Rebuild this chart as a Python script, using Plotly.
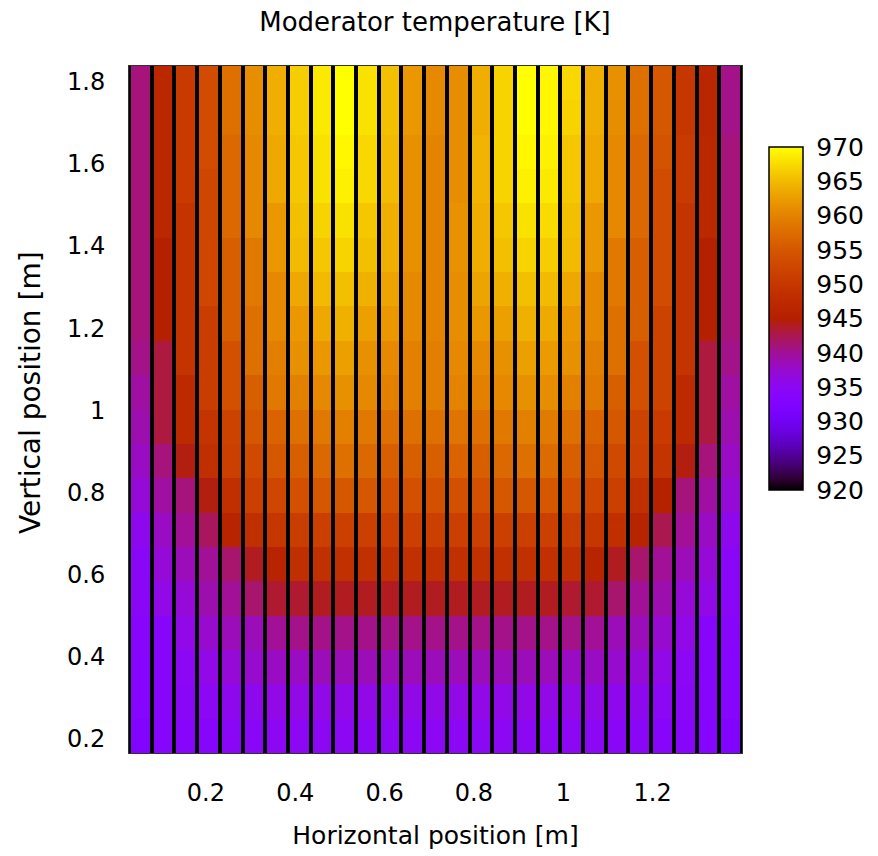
import numpy as np
import plotly.graph_objects as go

# ---- data -------------------------------------------------------------
N_COLS = 27
N_ROWS = 20
X_MIN, X_MAX = 0.028, 1.40
Y_MIN, Y_MAX = 0.166, 1.838

# moderator temperature [K], rows listed from TOP (y high) to BOTTOM (y low)
temp_top_to_bottom = [
    [941, 947, 950.5, 953.5, 958, 961, 964, 966.5, 968.5, 970, 968, 965.5, 962, 960.5, 961, 964, 967, 970, 969.5, 967.3, 964, 961.4, 958, 955, 950, 946.5, 940.5],
    [941, 947, 950.5, 953.5, 958, 961, 964, 966.5, 968.5, 970, 968, 965.5, 962, 960.5, 961, 964, 967, 970, 969.5, 967, 964, 961, 958, 955, 950, 946.5, 940.5],
    [941, 947, 950.5, 953.5, 957, 960.5, 963.5, 966, 968, 969.5, 967.3, 965, 961.4, 960, 961, 964.5, 967, 969.5, 969, 966, 963.5, 960.5, 957, 954.5, 950.5, 947, 941],
    [941, 947, 950.5, 952.5, 957, 960.5, 963.5, 966, 968, 969, 967.3, 965, 961.4, 960, 961, 964.5, 967, 969, 968.5, 966, 963.5, 960.5, 957, 953.5, 950.5, 947, 941],
    [941, 947, 949.5, 952.5, 957, 960.5, 962, 965.5, 967, 968, 966, 964, 961.4, 960, 961.5, 964, 966, 968, 967.5, 965.5, 962, 960.5, 957, 953.5, 949.5, 947, 941],
    [941, 945, 949.5, 952.5, 956, 959, 962, 965, 966, 967, 965.5, 964, 961.4, 960, 961.5, 964, 965.5, 967, 966.5, 965, 962, 959, 956, 953.5, 949.5, 945, 941],
    [941, 945, 949.5, 952.5, 956, 959, 960.5, 963.5, 965, 965.5, 964.2, 963, 960.5, 960, 961, 963, 964.2, 965.5, 965, 963.5, 960.5, 959, 956, 953.5, 949.5, 945, 941],
    [941, 945, 949.5, 951, 956, 958, 960.5, 962, 963.5, 964.2, 962.8, 962, 960.5, 960, 961, 962, 962.8, 964.2, 963.7, 962, 960.5, 958, 956, 952, 949.5, 945, 941],
    [940.5, 943, 949.5, 951, 954, 958, 959.5, 961.4, 962, 962.8, 961.4, 960.5, 959.7, 959.5, 960.5, 960.5, 961.4, 962.8, 962.3, 961.4, 959.5, 958, 954, 952, 949.5, 943, 940.5],
    [939.5, 943, 947.5, 951, 954, 956, 959, 959.7, 960.5, 961.4, 960.5, 959.7, 959.7, 959.5, 960, 959.7, 960.5, 961.4, 961, 959.7, 959, 956, 954, 952, 947.5, 943, 939.5],
    [939, 943, 947.5, 949.5, 952, 955, 956.5, 958, 959, 959.7, 959, 958, 958, 958, 958.5, 958, 959, 959.7, 959.2, 958, 956.5, 955, 952, 950.5, 947.5, 943, 939],
    [938, 941, 944.5, 948.5, 951.5, 953, 955, 956, 957, 958, 957, 956, 956, 956, 956.5, 956, 957, 958, 957.5, 956, 955, 953, 951.5, 949.5, 944.5, 941, 938],
    [937, 939.5, 941, 944.5, 948.5, 951.5, 952.5, 954, 955, 955, 955, 954, 954, 954, 954, 954, 955, 955, 955, 954, 952.5, 951.5, 948.5, 945.5, 941, 939.5, 937],
    [935.5, 938, 940, 942, 946, 948.5, 950, 951, 951.5, 951.5, 951.5, 951.5, 951.5, 951.5, 951.5, 951.5, 951.5, 951.5, 951.5, 951, 950, 948.5, 946, 942.5, 940, 938, 935.5],
    [934.5, 937, 938.5, 940, 941.5, 944, 946, 948.5, 948.7, 948.7, 948.7, 948.7, 948.7, 948.7, 948.7, 948.7, 948.7, 948.7, 948.7, 948.5, 946, 944, 941.5, 940, 938.5, 937, 934.5],
    [934.5, 936, 937, 939, 940, 941.5, 943.5, 943.5, 944, 944, 944, 944, 944, 944, 944, 944, 944, 944, 944, 943.5, 943.5, 941.5, 940, 939, 937, 936, 934.5],
    [934, 934, 936, 937.5, 938.5, 938.5, 940, 940.5, 940.5, 940.5, 940.5, 940.5, 940.5, 940.5, 940.5, 940.5, 940.5, 940.5, 940.5, 940.5, 940, 938.5, 938.5, 937.5, 936, 934, 934],
    [933.5, 934, 935, 936, 937, 937.5, 938, 938, 938.5, 938.5, 938.5, 938.5, 938.5, 938.5, 938.5, 938.5, 938.5, 938.5, 938.5, 938, 938, 937.5, 937, 936, 935, 934, 933.5],
    [933.5, 934, 934.5, 935, 935.5, 935.5, 936, 936, 936, 936, 936, 936, 936, 936, 936, 936, 936, 936, 936, 936, 936, 935.5, 935.5, 935, 934.5, 934, 933.5],
    [933, 933.5, 934, 934, 934.5, 934.5, 935, 935, 935, 935, 935, 935, 935, 935, 935, 935, 935, 935, 935, 935, 935, 934.5, 934.5, 934, 934, 933.5, 933],
]

x_tick_vals = [0.2, 0.4, 0.6, 0.8, 1.0, 1.2]
x_tick_text = ["0.2", "0.4", "0.6", "0.8", "1", "1.2"]
y_tick_vals = [0.2, 0.4, 0.6, 0.8, 1.0, 1.2, 1.4, 1.6, 1.8]
y_tick_text = ["0.2", "0.4", "0.6", "0.8", "1", "1.2", "1.4", "1.6", "1.8"]
cbar_tick_vals = [920, 925, 930, 935, 940, 945, 950, 955, 960, 965, 970]
Z_MIN, Z_MAX = 920, 970

# ---- build ------------------------------------------------------------
z = np.array(temp_top_to_bottom[::-1])
x_edges = np.linspace(X_MIN, X_MAX, N_COLS + 1)
y_edges = np.linspace(Y_MIN, Y_MAX, N_ROWS + 1)

# gnuplot rgbformulae 7,5,15 palette
cs = []
for t in np.linspace(0, 1, 41):
    r = np.sqrt(t)
    g = t ** 3
    b = max(0.0, np.sin(2 * np.pi * t))
    cs.append([float(t), "rgb(%d,%d,%d)" % (round(255 * r), round(255 * g), round(255 * b))])

FONT = "DejaVu Sans"

fig = go.Figure(go.Heatmap(
    z=z, x=x_edges, y=y_edges,
    zmin=Z_MIN, zmax=Z_MAX,
    colorscale=cs,
    xgap=4, ygap=0,
    colorbar=dict(
        thickness=34, len=343, lenmode="pixels",
        x=1.044, xanchor="left", xpad=0,
        y=0.6325, yanchor="middle", ypad=0,
        outlinewidth=1.5, outlinecolor="black",
        tickvals=cbar_tick_vals, ticks="outside", ticklen=8,
        tickcolor="rgba(0,0,0,0)",
        tickfont=dict(family=FONT, size=25, color="black"),
    ),
))

fig.update_layout(
    width=878, height=856,
    margin=dict(l=129, r=136, t=66, b=103),
    paper_bgcolor="white", plot_bgcolor="black",
    font=dict(family=FONT, color="black"),
    title=dict(text="Moderator temperature [K]", x=(129 + 306) / 878, xanchor="center",
               y=1 - 22 / 856, yanchor="middle", yref="container",
               font=dict(family=FONT, size=26, color="black")),
    xaxis=dict(range=[X_MIN, X_MAX], tickvals=x_tick_vals, ticktext=x_tick_text,
               showgrid=False, zeroline=False, showline=True, mirror=True,
               linecolor="#333", linewidth=1, ticks="outside", ticklen=18,
               tickcolor="rgba(0,0,0,0)",
               tickfont=dict(family=FONT, size=24, color="black"),
               title=dict(text="Horizontal position [m]", standoff=20,
                          font=dict(family=FONT, size=25, color="black"))),
    yaxis=dict(range=[Y_MIN, Y_MAX], tickvals=y_tick_vals, ticktext=y_tick_text,
               showgrid=False, zeroline=False, showline=True, mirror=True,
               linecolor="#333", linewidth=1, ticks="outside", ticklen=18,
               tickcolor="rgba(0,0,0,0)",
               tickfont=dict(family=FONT, size=24, color="black")),
    annotations=[dict(text="Vertical position [m]", textangle=-90,
                      xref="paper", yref="paper",
                      x=(30 - 129) / 613, y=1 - (393 - 66) / 687,
                      xanchor="center", yanchor="middle", showarrow=False,
                      font=dict(family=FONT, size=28, color="black"))],
)

fig.write_html("out.html")
